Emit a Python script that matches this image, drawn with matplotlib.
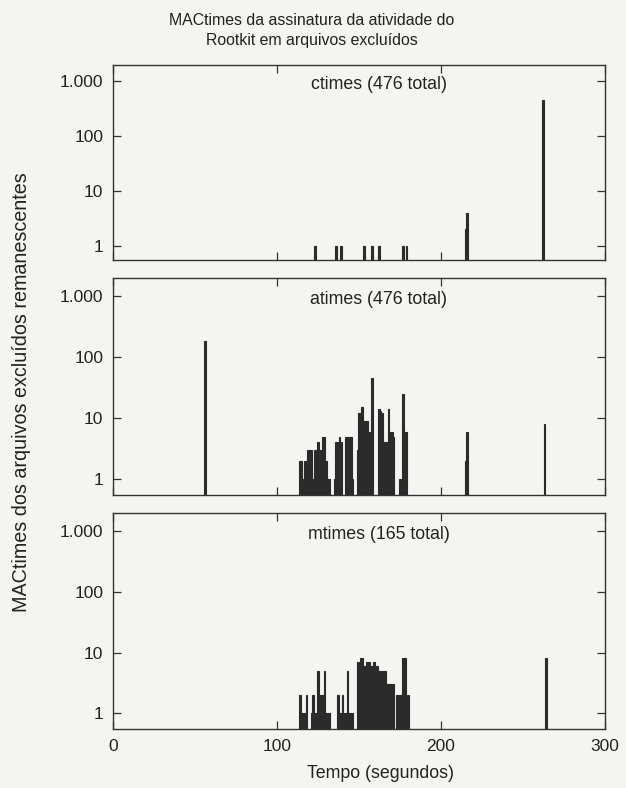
import matplotlib
matplotlib.use("Agg")
import matplotlib.pyplot as plt

plt.rcParams['font.family'] = ['Liberation Sans', 'DejaVu Sans']

# contagens por segundo (somente segundos com arquivos)
ctimes_t = [123, 136, 139, 153, 158, 162, 177, 179, 215, 216, 262]
ctimes_n = [1, 1, 1, 1, 1, 1, 1, 1, 2, 4, 460]

atimes_t = [56,
            114, 115, 116, 117, 118, 119, 120, 121, 122, 123, 124, 125, 126, 127, 128, 129, 130, 131, 132,
            135, 136, 137, 138, 139, 142, 143, 144, 145, 146,
            149, 150, 151, 152, 153, 154, 155, 156, 157, 158,
            162, 163, 164, 165, 166, 167, 168, 169, 170, 171,
            175, 177, 178, 179,
            215, 216, 263]
atimes_n = [186,
            2, 2, 1, 2, 2, 3, 3, 3, 1, 3, 3, 4, 3, 3, 5, 5, 2, 1, 1,
            1, 4, 4, 5, 4, 5, 5, 5, 5, 1,
            3, 12, 12, 15, 9, 9, 9, 6, 6, 45,
            14, 13, 12, 4, 4, 4, 14, 6, 6, 5,
            1, 25, 6, 6,
            2, 6, 8]

mtimes_t = [114, 115, 116, 117, 118, 121, 122, 123, 124, 125, 126, 127, 128, 129, 130, 131, 132,
            137, 138, 139, 140, 141, 142, 143, 144, 145, 146,
            149, 150, 151, 152, 153, 154, 155, 156, 157, 158, 159, 160, 161, 162, 163, 164, 165, 166,
            167, 168, 169, 170, 171, 173, 174, 175, 176, 177, 178, 179, 180,
            264]
mtimes_n = [2, 1, 1, 1, 2, 1, 2, 1, 1, 5, 2, 2, 2, 5, 1, 1, 1,
            2, 1, 1, 2, 1, 1, 5, 1, 1, 1,
            7, 7, 8, 8, 6, 6, 7, 7, 6, 6, 7, 4, 6, 5, 5, 5, 5, 5,
            3, 3, 3, 3, 3, 2, 2, 2, 2, 8, 8, 1, 2,
            8]

titles = ["ctimes (476 total)", "atimes (476 total)", "mtimes (165 total)"]
yticks = [1, 10, 100, 1000]
yticklabels = ["1", "10", "100", "1.000"]
xticks = [0, 100, 200, 300]

bg = '#f4f4f1'
ink = '#2b2b2b'

fig = plt.figure(figsize=(6.26, 7.88), dpi=100, facecolor=bg)
boxes = [[0.1805, 0.670, 0.786, 0.2475],
         [0.1805, 0.372, 0.786, 0.275],
         [0.1805, 0.075, 0.786, 0.274]]
series = [(ctimes_t, ctimes_n), (atimes_t, atimes_n), (mtimes_t, mtimes_n)]

for i, (box, (t, n), title) in enumerate(zip(boxes, series, titles)):
    ax = fig.add_axes(box)
    ax.set_facecolor(bg)
    ax.bar(t, n, width=1.0, color=ink, edgecolor=ink, linewidth=0.8)
    ax.set_yscale('log')
    ax.set_ylim(0.55, 2000)
    ax.set_xlim(0, 300)
    ax.set_yticks(yticks)
    ax.set_yticklabels(yticklabels)
    ax.minorticks_off()
    ax.set_xticks(xticks)
    if i < 2:
        ax.set_xticklabels([])
    ax.tick_params(direction='in', top=True, right=True, length=6, width=0.9,
                   color='#333333', labelsize=12.5, labelcolor='#222222', pad=7)
    for s in ax.spines.values():
        s.set_color('#333333')
        s.set_linewidth(1.0)
    ax.text(162, 0.9, title, transform=ax.get_xaxis_transform(), ha='center', va='center',
            fontsize=12.8, color='#222222')

fig.text(0.498, 0.961, "MACtimes da assinatura da atividade do\nRootkit em arquivos excluídos",
         ha='center', va='center', fontsize=11.4, color='#222222', linespacing=1.4)
fig.text(0.035, 0.503, "MACtimes dos arquivos excluídos remanescentes", rotation=90,
         ha='center', va='center', fontsize=14.2, color='#222222')
fig.text(0.608, 0.019, "Tempo (segundos)", ha='center', va='center', fontsize=12.8, color='#222222')

fig.savefig('out.png', dpi=100, facecolor=bg)
